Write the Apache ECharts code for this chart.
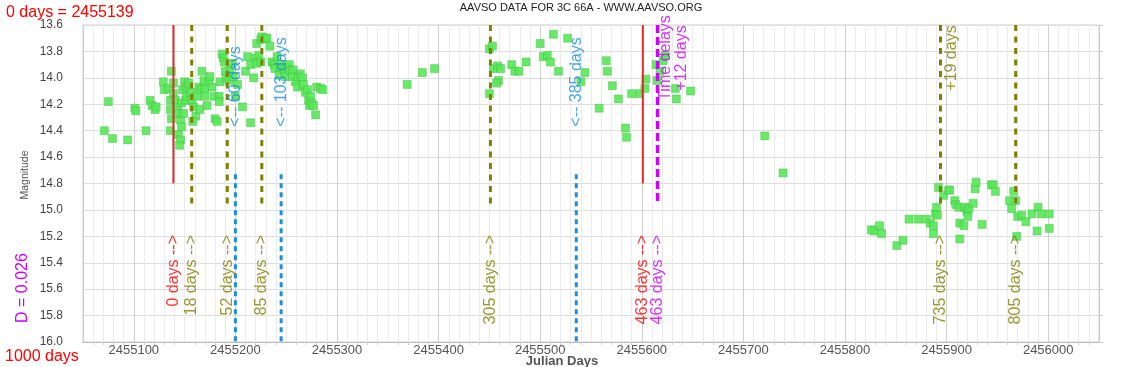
<!DOCTYPE html>
<html><head><meta charset="utf-8">
<script src="https://cdn.jsdelivr.net/npm/echarts@6/dist/echarts.min.js"></script>
<style>html,body{margin:0;padding:0;background:#fff}#c{width:1135px;height:367px}</style>
</head><body><div id="c"></div>
<script>
// ---------- DATA ----------
const jd = [
2455071,2455075,2455079,2455094,2455101,2455102,2455112,2455116,2455118,2455121,2455122,
2455129,2455130,2455134,2455136,2455136,2455137,2455136,2455137,2455139,2455139,2455141,
2455143,2455144,2455146,2455147,2455144,2455146,2455145,2455147,2455149,2455151,2455148,
2455150,2455152,2455152,2455154,2455156,2455157,2455159,2455161,2455158,2455162,2455164,
2455166,2455165,2455167,2455169,2455170,2455170,2455172,2455174,2455175,2455177,2455179,
2455180,2455182,2455184,2455184,2455185,2455187,2455188,2455189,2455190,2455191,2455194,
2455195,2455197,2455198,2455200,2455202,2455207,2455210,2455212,2455215,2455215,2455218,
2455220,2455221,2455221,2455225,2455226,2455230,2455231,2455223,2455225,2455234,2455236,
2455238,2455239,2455241,2455243,2455244,2455246,2455248,2455249,2455251,2455253,2455254,
2455256,2455257,2455259,2455261,2455262,2455264,2455266,2455267,2455269,2455271,2455272,
2455273,2455274,2455275,2455279,2455280,2455284,2455286,2455277,
2455369,2455384,2455396,2455450,2455450,2455453,2455454,2455458,2455461,2455459,2455457,
2455472,2455475,2455479,2455486,2455500,2455503,2455507,2455510,2455513,2455518,2455527,
2455540,2455544,2455558,2455565,2455566,2455571,2455577,2455584,2455585,2455590,2455598,
2455603,2455604,2455614,2455615,2455618,2455621,2455623,2455633,2455634,2455648,
2455721,2455739,
2455826,2455829,2455834,2455836,2455851,2455857,2455863,2455872,2455880,2455884,2455887,
2455887,2455889,2455890,2455891,2455892,2455897,2455902,2455903,2455908,2455909,2455912,
2455913,2455913,2455917,2455918,2455920,2455921,2455922,2455926,2455928,2455929,2455935,
2455944,2455946,2455948,2455962,2455966,2455964,2455968,2455969,2455970,2455974,2455978,
2455984,2455989,2455990,2455993,2456001,2456001
];
const mag = [
14.40,14.18,14.46,14.47,14.23,14.25,14.40,14.17,14.21,14.24,14.22,
14.03,14.09,14.08,14.17,14.24,14.31,14.40,13.95,14.12,14.04,14.17,
14.22,14.27,14.32,14.37,14.43,14.47,14.51,14.19,14.27,14.17,14.09,
14.03,14.07,14.14,14.04,14.11,14.17,14.22,14.29,14.33,14.14,14.07,
14.09,14.24,13.95,14.02,14.08,14.14,14.21,14.03,13.99,14.07,14.14,
14.31,14.33,14.14,14.18,14.03,13.82,13.85,13.88,13.95,14.00,14.02,
13.94,13.89,13.99,14.14,14.05,14.22,13.95,13.84,13.90,14.34,14.00,
13.85,13.89,13.74,13.71,13.69,13.70,13.70,13.83,13.88,13.76,13.88,
13.90,13.93,13.84,13.98,13.92,13.90,13.94,13.99,13.92,13.90,13.95,
13.99,13.94,14.03,14.07,13.99,13.97,14.00,14.05,14.11,14.09,14.17,
14.21,14.14,14.19,14.28,14.07,14.08,14.09,14.21,
14.05,13.96,13.93,14.12,13.78,13.76,13.93,13.91,13.93,14.02,14.04,
13.90,13.95,13.95,13.88,13.74,13.84,13.83,13.88,13.67,13.95,13.70,
14.03,13.96,14.23,13.87,13.95,14.06,14.16,14.38,14.45,14.12,14.12,
14.08,14.01,13.90,14.02,13.95,13.87,13.83,14.08,14.16,14.10,
14.44,14.72,
15.15,15.16,15.12,15.18,15.27,15.23,15.07,15.07,15.07,15.10,15.12,
15.18,15.03,14.98,15.04,14.83,14.89,14.85,14.85,14.93,14.96,14.98,
15.10,15.22,15.12,14.98,15.01,15.05,14.99,14.95,14.84,14.79,15.11,
14.81,14.81,14.86,14.93,14.86,14.99,14.93,15.20,15.05,15.04,15.09,
15.03,15.16,14.98,15.03,15.03,15.14
];
const zeroDay = 2455139;
const dValue = '0.026';
const spanDays = 1000;
const chartTitle = 'AAVSO DATA FOR 3C 66A - WWW.AAVSO.ORG';

const redLineDays = [2455139, 2455601];
const redLabels = ['0 days -->', '463 days -->'];
const oliveLineDays = [2455157, 2455192, 2455226, 2455451, 2455894, 2455968];
const oliveLabels = ['18 days -->', '52 days -->', '85 days -->', '305 days -->', '735 days -->', '805 days -->'];
const blueLineDays = [2455200, 2455245, 2455535.5];
const blueLabels = ['<-- 60 days', '<-- 103 days', '<-- 385 days'];
const magentaLineDays = [2455615.5];
const magentaLabels = ['463 days -->'];
const noteDays = [2455631, 2455905];
const noteTexts = ['Time delays\n+12 days', '+19 days'];

// ---------- STYLE / LAYOUT ----------
const FONT = '"Liberation Sans", Arial, sans-serif';
const RED = '#ff0000', OLIVE = '#808000', BLUE = '#1a8fe0', MAGENTA = '#cc00ff';
const TOP_RANGE = [13.6, 14.8];
const DASH_RANGE = [13.6, 14.96];
const BLUE_RANGE = [14.73, 16.0];
const LOW_LABEL_MAG = 15.19;
const BLUE_LABEL_MAG = 14.37;
const NOTE_MAG = 13.85;

function vline(day, range, color, width, dash) {
  return {type:'line', data:[[day, range[0]], [day, range[1]]], symbol:'none', silent:true, z:3,
    animation:false, lineStyle:{color:color, width:width, type:dash}};
}
function labels(days, m, texts, color, align) {
  return {type:'scatter', z:5, silent:true, symbolSize:1, animation:false,
    itemStyle:{color:'transparent'},
    data: days.map((d,i)=>({value:[d, m], name:texts[i]})),
    label:{show:true, position:'inside', rotate:90, align:align, verticalAlign:'middle',
      formatter:p=>p.name, color:color, fontSize:16, fontFamily:FONT, lineHeight:16}};
}

const series = [{
  type:'scatter', z:2, symbol:'rect', symbolSize:8, animation:false,
  data: jd.map((d,i)=>[d, mag[i]]),
  itemStyle:{color:'#58e858', borderColor:'rgba(60,180,60,0.6)', borderWidth:0.7, opacity:0.9}
}];
redLineDays.forEach(d=>series.push(vline(d, TOP_RANGE, '#e02a2a', 2, 'solid')));
oliveLineDays.forEach(d=>series.push(vline(d, DASH_RANGE, OLIVE, 3, [6,5.5])));
blueLineDays.forEach(d=>series.push(vline(d, BLUE_RANGE, BLUE, 3, [5,4])));
magentaLineDays.forEach(d=>series.push(vline(d, DASH_RANGE, MAGENTA, 3.5, [8,4])));
series.push(labels(redLineDays, LOW_LABEL_MAG, redLabels, RED, 'right'));
series.push(labels(oliveLineDays, LOW_LABEL_MAG, oliveLabels, OLIVE, 'right'));
series.push(labels(magentaLineDays, LOW_LABEL_MAG, magentaLabels, MAGENTA, 'right'));
series.push(labels(blueLineDays, BLUE_LABEL_MAG, blueLabels, BLUE, 'left'));
series.push(labels([noteDays[0]], NOTE_MAG, [noteTexts[0]], MAGENTA, 'center'));
series.push(labels([noteDays[1]], NOTE_MAG, [noteTexts[1]], OLIVE, 'center'));

const chart = echarts.init(document.getElementById('c'), null, {renderer:'canvas'});
chart.setOption({
  animation:false,
  backgroundColor:'#fff',
  grid:{left:83, right:36, top:25, bottom:25, show:true, borderColor:'#cfcfcf', borderWidth:1},
  xAxis:[{
    type:'value', min:2455050, max:2456050, interval:50,
    axisLine:{show:true, lineStyle:{color:'#bbb'}},
    axisTick:{show:false},
    minorTick:{show:true, splitNumber:5, length:3, lineStyle:{color:'#ccc'}},
    axisLabel:{formatter:v=> (v % 100 === 0 ? String(v) : ''), fontSize:13, color:'#555', margin:2, fontFamily:FONT},
    splitLine:{show:true, lineStyle:{color:['#ebebeb','#d0d0d0'], width:1}},
    minorSplitLine:{show:true, lineStyle:{color:'#ebebeb', width:1}}
  }],
  yAxis:[{
    type:'value', inverse:true, min:13.6, max:16.0, interval:0.2,
    axisLine:{show:true, lineStyle:{color:'#ccc'}},
    axisTick:{show:false},
    axisLabel:{formatter:v=>v.toFixed(1), fontSize:12, color:'#444', margin:20, fontFamily:FONT},
    splitLine:{show:true, lineStyle:{color:'#dedede'}}
  },{
    type:'value', inverse:true, min:13.6, max:16.0, interval:0.2, position:'right',
    axisLine:{show:true, lineStyle:{color:'#ccc'}},
    axisTick:{show:true, length:4, lineStyle:{color:'#ccc'}},
    axisLabel:{show:false}, splitLine:{show:false}
  }],
  graphic:[
    {type:'text', x:581, y:8, style:{text:chartTitle, font:'11px '+FONT, fill:'#222', align:'center', verticalAlign:'middle'}},
    {type:'text', x:6, y:13, style:{text:'0 days = ' + zeroDay, font:'16px '+FONT, fill:RED, align:'left', verticalAlign:'middle'}},
    {type:'text', x:5, y:356.5, style:{text:spanDays + ' days', font:'16px '+FONT, fill:RED, align:'left', verticalAlign:'middle'}},
    {type:'text', x:23, y:288, rotation:Math.PI/2, style:{text:'D = ' + dValue, font:'16px '+FONT, fill:MAGENTA, align:'center', verticalAlign:'middle'}},
    {type:'text', x:25, y:175, rotation:Math.PI/2, style:{text:'Magnitude', font:'10.5px '+FONT, fill:'#555', align:'center', verticalAlign:'middle'}},
    {type:'text', x:562, y:361, style:{text:'Julian Days', font:'bold 13px '+FONT, fill:'#555', align:'center', verticalAlign:'middle'}}
  ],
  series:series
});
</script>
</body></html>
